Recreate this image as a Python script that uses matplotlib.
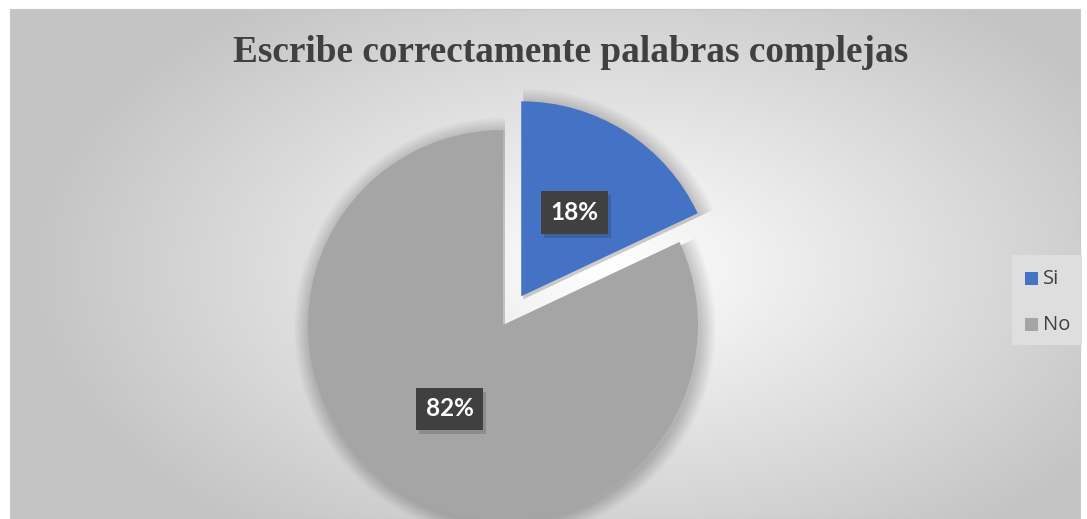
import numpy as np
import matplotlib
matplotlib.use("Agg")
import matplotlib.pyplot as plt
import matplotlib.patheffects as pe
from matplotlib.patches import Rectangle, Wedge

W, H = 1087, 519
TITLE = "Escribe correctamente palabras complejas"
labels = ["Si", "No"]
values = [18, 82]
colors = ["#4472C4", "#A5A5A5"]

fig = plt.figure(figsize=(W / 100, H / 100), dpi=100)
ax = fig.add_axes([0, 0, 1, 1])

# radial (elliptical) background gradient of the chart area
x0, x1, y0, y1 = 10, 1080, 0, 510
yy, xx = np.mgrid[y0:y1, x0:x1]
d = np.hypot((xx - 610) / 570, (yy - 250) / 330)
g = np.clip(255 - 58 * d, 196, 255) / 255
img = np.dstack([g, g, g])
ax.imshow(img, extent=(x0, x1, y0, y1), origin="lower", zorder=0, interpolation="bilinear")
ax.add_patch(Rectangle((x0, y0), x1 - x0, y1 - y0, fill=False, ec="#c8c8c8", lw=0.8, zorder=1))

cx, cy, r = 503, 194, 195

wedges, texts, autotexts = ax.pie(
    values, colors=colors, startangle=90, counterclock=False, center=(cx, cy), radius=r,
    explode=[34, 0], autopct="%1.0f%%", pctdistance=0.51, frame=True,
    wedgeprops=dict(lw=0, zorder=2), textprops=dict(zorder=3))

# soft shadow behind each wedge
for w in wedges:
    for i in range(16):
        ax.add_patch(Wedge((w.center[0] + 2, w.center[1] - 3), w.r + 16 - i, w.theta1, w.theta2,
                           color="black", alpha=0.011, lw=0, zorder=1.5))

ax.set_xlim(0, W)
ax.set_ylim(0, H)
ax.set_aspect("equal")
ax.axis("off")
for t in autotexts:
    t.set_color("white")
    t.set_fontsize(17.5)
    t.set_fontweight("bold")
    t.set_fontfamily("Lato")
    t.set_bbox(dict(boxstyle="square,pad=0.4", fc="#404040", ec="none"))
    t.get_bbox_patch().set_path_effects(
        [pe.SimplePatchShadow(offset=(2, -3), shadow_rgbFace="black", alpha=0.15), pe.Normal()])

ax.text(571, H - 52, TITLE, ha="center", va="center", fontsize=26.8, fontweight="bold",
        family="Liberation Serif", color="#404040", zorder=4)

# legend
ax.add_patch(Rectangle((1012, 174), 70, 90, fc="#dedede", ec="none", zorder=2))
for i, (lab, c) in enumerate(zip(labels, colors)):
    yl = H - 279 - i * 46
    ax.add_patch(Rectangle((1025, yl - 6), 13, 13, fc=c, ec="none", zorder=3))
    ax.text(1043, yl, lab, va="center", ha="left", fontsize=14.5, family="Open Sans",
            color="#404040", zorder=3)

fig.savefig("out.png", dpi=100)
